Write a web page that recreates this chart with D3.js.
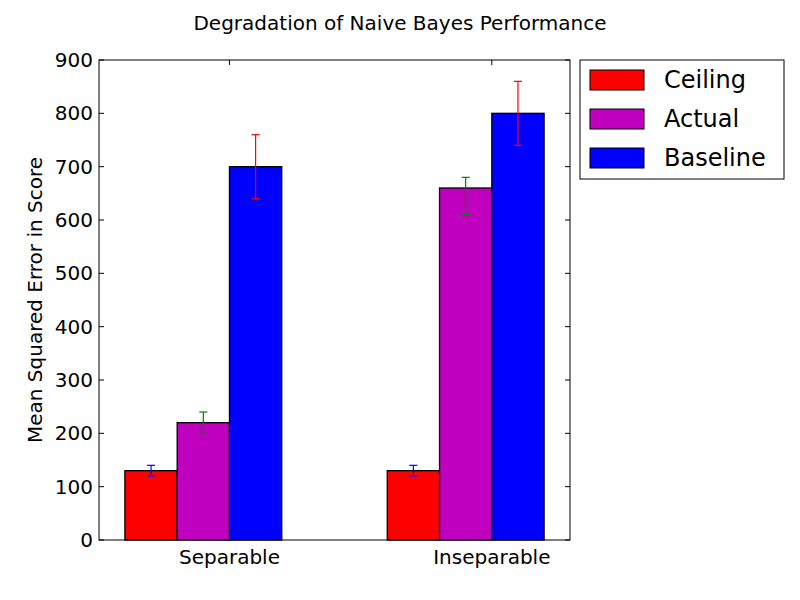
<!DOCTYPE html><html><head><script src="https://cdn.jsdelivr.net/npm/d3@7"></script>
<style>body{margin:0;background:#fff}text{font-family:"DejaVu Sans",sans-serif}</style></head><body>
<svg id="c" width="800" height="600"></svg>
<script>
const categories=["Separable","Inseparable"];
const series=["Ceiling","Actual","Baseline"];
const colors=["#ff0000","#bf00bf","#0000ff"];
const errColors=["#0000ff","#008000","#ff0000"];
const values=[[130,220,700],[130,660,800]];
const errLow=[[120,200,640],[120,610,740]];
const errHigh=[[140,240,760],[140,680,860]];
const yTicks=[0,100,200,300,400,500,600,700,800,900];

const svg=d3.select("#c");
const L=99,R=570,T=60,B=540;
const y=d3.scaleLinear().domain([0,900]).range([B,T]);
const x=d3.scaleLinear().domain([0,2]).range([L,R]);
const bw=0.222;
const centers=[0.443,1.557];
const g=svg.append("g");
categories.forEach((c,i)=>{
  series.forEach((s,j)=>{
    const x0=centers[i]+(j-1.5)*bw;
    g.append("rect").attr("x",x(x0)).attr("width",x(x0+bw)-x(x0))
     .attr("y",y(values[i][j])).attr("height",y(0)-y(values[i][j]))
     .attr("fill",colors[j]).attr("stroke","#000").attr("stroke-width",1.3);
    const xc=x(x0+bw/2);
    const eg=g.append("g").attr("stroke",errColors[j]).attr("stroke-width",1.2);
    eg.append("line").attr("x1",xc).attr("x2",xc).attr("y1",y(errLow[i][j])).attr("y2",y(errHigh[i][j]));
    [errLow[i][j],errHigh[i][j]].forEach(v=>eg.append("line").attr("x1",xc-4).attr("x2",xc+4).attr("y1",y(v)).attr("y2",y(v)));
  });
});
svg.append("rect").attr("x",L).attr("y",T).attr("width",R-L).attr("height",B-T).attr("fill","none").attr("stroke","#000");
yTicks.forEach(t=>{
  svg.append("line").attr("x1",L).attr("x2",L+5).attr("y1",y(t)).attr("y2",y(t)).attr("stroke","#000");
  svg.append("line").attr("x1",R).attr("x2",R-5).attr("y1",y(t)).attr("y2",y(t)).attr("stroke","#000");
  svg.append("text").attr("x",L-6).attr("y",y(t)).attr("dy","0.35em").attr("text-anchor","end").attr("font-size",20).text(t);
});
categories.forEach((c,i)=>{
  const xc=x(centers[i]+0.5*bw);
  svg.append("line").attr("x1",xc).attr("x2",xc).attr("y1",B).attr("y2",B-5).attr("stroke","#000");
  svg.append("line").attr("x1",xc).attr("x2",xc).attr("y1",T).attr("y2",T+5).attr("stroke","#000");
  svg.append("text").attr("x",xc).attr("y",564).attr("text-anchor","middle").attr("font-size",20).text(c);
});
svg.append("text").attr("transform","translate(42,300) rotate(-90)").attr("text-anchor","middle").attr("font-size",20).text("Mean Squared Error in Score");
svg.append("text").attr("x",400).attr("y",30).attr("text-anchor","middle").attr("font-size",20).text("Degradation of Naive Bayes Performance");
const lg=svg.append("g");
lg.append("rect").attr("x",580).attr("y",60).attr("width",204).attr("height",119).attr("fill","#fff").attr("stroke","#000");
series.forEach((s,j)=>{
  const yy=80+j*39;
  lg.append("rect").attr("x",590).attr("y",yy-10).attr("width",54).attr("height",20).attr("fill",colors[j]).attr("stroke","#000");
  lg.append("text").attr("x",664).attr("y",yy).attr("dy","0.35em").attr("font-size",24).text(s);
});
</script></body></html>
